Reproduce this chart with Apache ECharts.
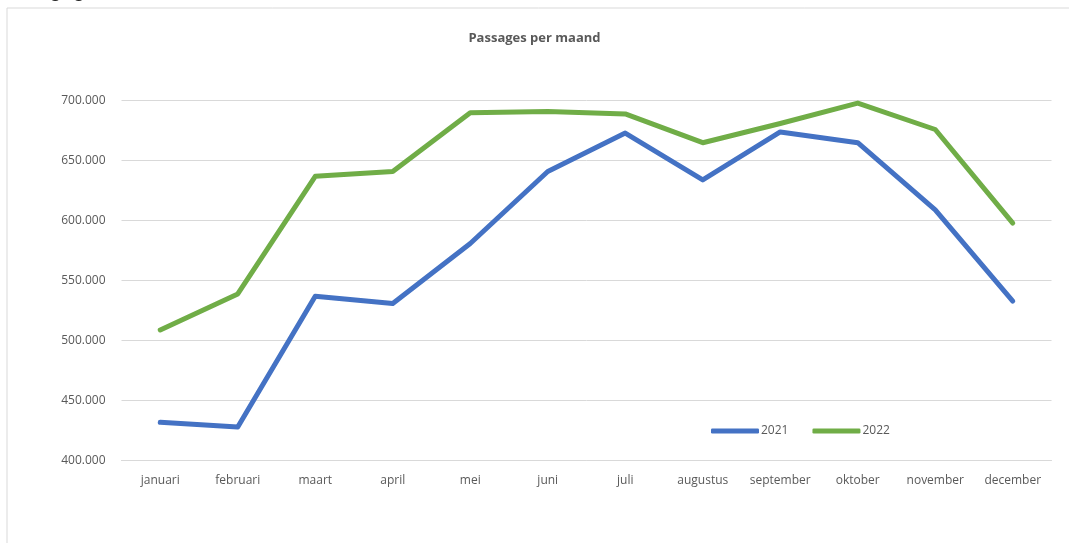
<!DOCTYPE html>
<html>
<head>
<meta charset="utf-8">
<script src="https://cdn.jsdelivr.net/npm/echarts@6/dist/echarts.min.js"></script>
<style>
  html, body { margin: 0; padding: 0; background: #fff; }
  #chart { width: 1069px; height: 543px; }
</style>
</head>
<body>
<div id="chart"></div>
<script>
// months on the x axis
const months = ['januari', 'februari', 'maart', 'april', 'mei', 'juni', 'juli',
  'augustus', 'september', 'oktober', 'november', 'december'];

// passages per month
const passages2021 = [432000, 428000, 537000, 531000, 581000, 641000, 673000,
  634000, 674000, 665000, 609000, 533000];
const passages2022 = [509000, 539000, 637000, 641000, 690000, 691000, 689000,
  665000, 681000, 698000, 676000, 598000];

const seriesNames = ['2021', '2022'];

const chart = echarts.init(document.getElementById('chart'));

const fmt = (v) => String(v).replace(/\B(?=(\d{3})+(?!\d))/g, '.');

const option = {
  animation: false,
  textStyle: { fontFamily: '"Open Sans", sans-serif' },
  title: {
    text: 'Passages per maand',
    left: 'center',
    top: 27,
    textStyle: { fontSize: 13, fontWeight: 'bold', color: '#595959' },
  },
  graphic: [
    {
      type: 'rect',
      shape: { x: 7, y: 8, width: 1070, height: 560 },
      style: { fill: 'none', stroke: '#d9d9d9', lineWidth: 1 },
      silent: true,
    },
    {
      type: 'text',
      left: 4,
      top: -19,
      style: { text: 'weergegeven.', fontSize: 21, fill: '#222', fontFamily: 'Arial, sans-serif' },
      silent: true,
    },
  ],
  legend: {
    data: seriesNames,
    left: 706,
    top: 420,
    itemWidth: 48,
    itemHeight: 5,
    itemGap: 24,
    icon: 'roundRect',
    textStyle: { fontSize: 12, color: '#595959', padding: [0, 0, 0, -3] },
  },
  grid: {
    left: 121.5,
    right: 17.5,
    top: 100.7,
    bottom: 82.3,
  },
  xAxis: {
    type: 'category',
    data: months,
    boundaryGap: true,
    axisLine: { lineStyle: { color: '#d9d9d9' } },
    axisTick: { show: false },
    axisLabel: { color: '#595959', fontSize: 12, margin: 14, interval: 0 },
  },
  yAxis: {
    type: 'value',
    min: 400000,
    max: 700000,
    interval: 50000,
    axisLine: { show: false },
    axisTick: { show: false },
    splitLine: { lineStyle: { color: '#d9d9d9', width: 1 } },
    axisLabel: { color: '#595959', fontSize: 12, margin: 16, formatter: fmt },
  },
  series: [
    {
      name: seriesNames[0],
      type: 'line',
      data: passages2021,
      symbol: 'none',
      color: '#4472C4',
      lineStyle: { width: 5, cap: 'round', join: 'round' },
    },
    {
      name: seriesNames[1],
      type: 'line',
      data: passages2022,
      symbol: 'none',
      color: '#70AD47',
      lineStyle: { width: 5, cap: 'round', join: 'round' },
    },
  ],
};

chart.setOption(option);
</script>
</body>
</html>
